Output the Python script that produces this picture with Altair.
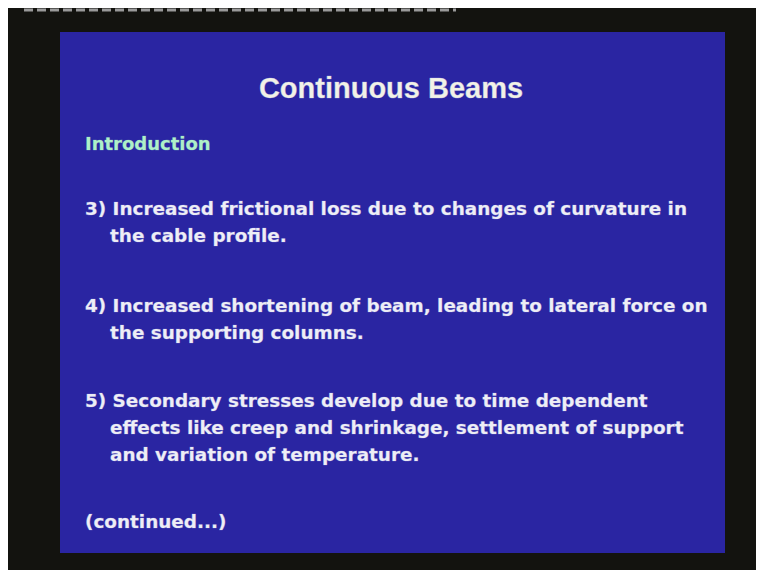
import altair as alt
import pandas as pd

W, H = 748, 562

# --- content ---
title_text = ["Continuous Beams"]
section_text = ["Introduction"]
body_lines = [
    "3) Increased frictional loss due to changes of curvature in",
    "the cable profile.",
    "4) Increased shortening of beam, leading to lateral force on",
    "the supporting columns.",
    "5) Secondary stresses develop due to time dependent",
    "effects like creep and shrinkage, settlement of support",
    "and variation of temperature.",
    "(continued...)",
]

# --- layout (chart pixel coordinates) ---
slide_box = {"x": [52], "x2": [717], "y": [24], "y2": [545]}
header_strip = {"x": [16], "x2": [448], "y": [2]}  # cut-off caption above the slide
title_pos = {"x": [383], "y": [90]}
section_pos = {"x": [77], "y": [142]}
body_x = [77, 102, 77, 102, 77, 102, 102, 77]
body_y = [207, 234, 304, 331, 399, 426, 453, 520]

xs = alt.Scale(domain=[0, W])
ys = alt.Scale(domain=[0, H], reverse=True)


def X(f="x"):
    return alt.X(f"{f}:Q", scale=xs, axis=None)


def Y(f="y"):
    return alt.Y(f"{f}:Q", scale=ys, axis=None)


# black frame continuing to the window's right and bottom edge
frame = alt.Chart(pd.DataFrame({"k": [0]})).mark_rect(color="#13130f").encode(
    x=alt.value(0), x2=alt.value(W + 8), y=alt.value(0), y2=alt.value(H + 8)
)

slide = alt.Chart(pd.DataFrame(slide_box)).mark_rect(color="#2a25a2").encode(
    x=X(), x2="x2:Q", y=Y(), y2="y2:Q"
)

header = alt.Chart(pd.DataFrame(header_strip)).mark_rule(
    color="#9a9a9a", strokeWidth=3, strokeDash=[9, 4]
).encode(x=X(), x2="x2:Q", y=Y())

title = alt.Chart(pd.DataFrame({**title_pos, "t": title_text})).mark_text(
    font="Liberation Sans", fontSize=29, fontWeight="bold", color="#f2f2e6",
    align="center", baseline="alphabetic", stroke="#c8c8e8", strokeWidth=0.6,
    strokeOpacity=0.6
).encode(x=X(), y=Y(), text="t:N")

section = alt.Chart(pd.DataFrame({**section_pos, "t": section_text})).mark_text(
    font="DejaVu Sans", fontSize=18, fontWeight="bold", color="#aef0c8",
    align="left", baseline="alphabetic", stroke="#aef0c8", strokeWidth=0.6,
    strokeOpacity=0.4
).encode(x=X(), y=Y(), text="t:N")

body = alt.Chart(pd.DataFrame({"x": body_x, "y": body_y, "t": body_lines})).mark_text(
    font="DejaVu Sans", fontSize=18.4, fontWeight="bold", color="#eeeef6",
    align="left", baseline="alphabetic", stroke="#d8d8f0", strokeWidth=0.7,
    strokeOpacity=0.4
).encode(x=X(), y=Y(), text="t:N")

chart = (
    alt.layer(frame, slide, header, title, section, body)
    .properties(width=W, height=H, background="#13130f", padding=0,
                autosize=alt.AutoSizeParams(type="none"))
    .configure_view(strokeWidth=0)
)

chart.save("out.html", embed_options={"renderer": "svg", "actions": False})
